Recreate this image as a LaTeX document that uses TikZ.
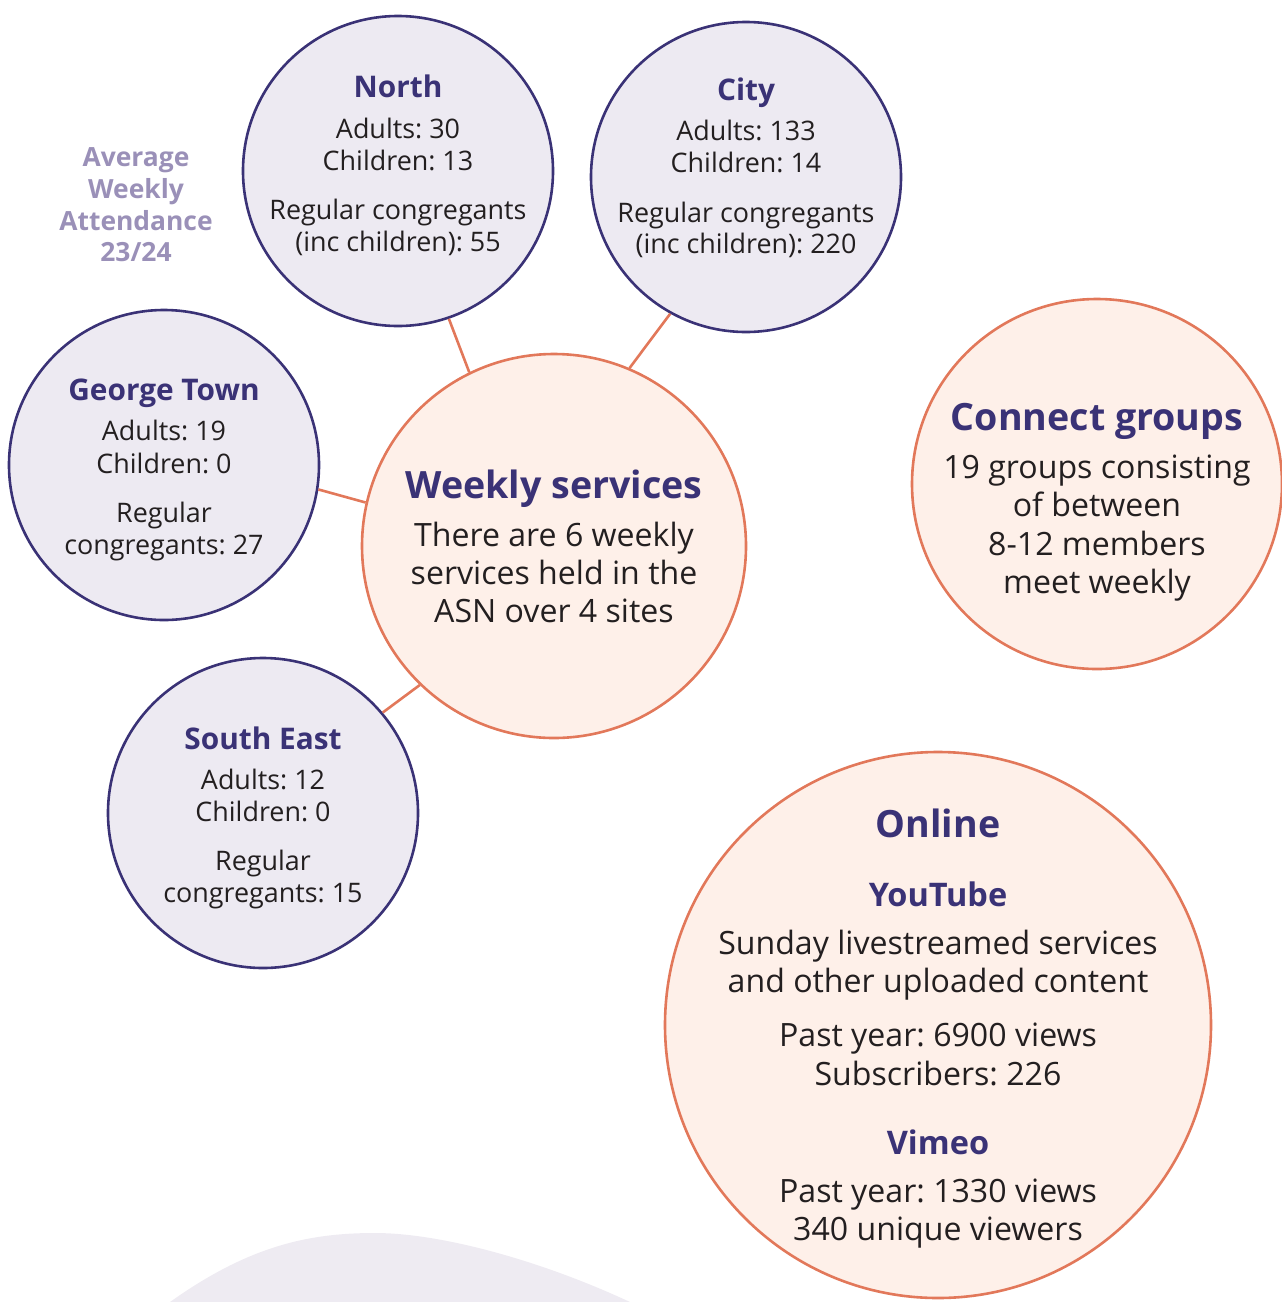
\documentclass[tikz,border=0pt]{standalone}
\usepackage{fontspec}
\setmainfont{Open Sans}
\frenchspacing
\definecolor{navy}{HTML}{3A3276}
\definecolor{lav}{HTML}{EDEAF2}
\definecolor{peach}{HTML}{FEF0E9}
\definecolor{orng}{HTML}{E2785A}
\definecolor{ink}{HTML}{231F20}
\definecolor{mauve}{HTML}{9A90B8}
\definecolor{blob}{HTML}{EEEBF2}
\tikzset{
  site/.style={circle, draw=navy, fill=lav, line width=2.6pt, inner sep=0pt},
  hub/.style={circle, draw=orng, fill=peach, line width=2.6pt, inner sep=0pt},
  conn/.style={draw=orng, line width=2.6pt},
  txt/.style={anchor=base, inner sep=0pt, text=ink, font=\fontsize{26.9}{30}\selectfont},
  btxt/.style={anchor=base, inner sep=0pt, text=ink, font=\fontsize{32.1}{36}\selectfont},
  shead/.style={anchor=base, inner sep=0pt, text=navy, font=\fontsize{29.8}{34}\selectfont\bfseries},
  bhead/.style={anchor=base, inner sep=0pt, text=navy, font=\fontsize{37.6}{42}\selectfont\bfseries},
  mhead/.style={anchor=base, inner sep=0pt, text=navy, font=\fontsize{32.5}{36}\selectfont\bfseries},
  avg/.style={anchor=base, inner sep=0pt, text=mauve, font=\fontsize{26.4}{30}\selectfont\bfseries}
}
\begin{document}
\begin{tikzpicture}[x=1pt,y=-1pt]
\useasboundingbox (0,0) rectangle (1282,1302);
% background blob
\fill[blob] (170,1302) .. controls (250,1245) and (310,1233) .. (375,1233) .. controls (440,1233) and (540,1260) .. (630,1302) -- cycle;
% circles
\node[site, minimum size=310pt] (north) at (398,171) {};
\node[site, minimum size=310pt] (city) at (746,177) {};
\node[site, minimum size=310pt] (gt) at (164,465) {};
\node[site, minimum size=310pt] (se) at (263,813) {};
\node[hub, minimum size=384pt] (weekly) at (554,546) {};
\node[hub, minimum size=370pt] (connect) at (1097,484) {};
\node[hub, minimum size=546pt] (online) at (938,1025) {};
% connectors
\draw[conn] (weekly.116.6) -- (north.-71.2);
\draw[conn] (weekly.67.3) -- (city.-119.5);
\draw[conn] (weekly.167.6) -- (gt.-9.6);
\draw[conn] (weekly.-134.8) -- (se.40);
% average label
\node[avg] (a1) at (136,166) {Average};
\node[avg] (a2) at (136,198) {Weekly};
\node[avg] (a3) at (136,230) {Attendance};
\node[avg] (a4) at (136,261) {23/24};
% North
\node[shead] (n0) at (398,97) {North};
\node[txt] (n1) at (398,138) {Adults: 30};
\node[txt] (n2) at (398,170) {Children: 13};
\node[txt] (n3) at (398,219) {Regular congregants};
\node[txt] (n4) at (398,251) {(inc children): 55};
% City
\node[shead] (c0) at (746,100) {City};
\node[txt] (c1) at (746,140) {Adults: 133};
\node[txt] (c2) at (746,172) {Children: 14};
\node[txt] (c3) at (746,222) {Regular congregants};
\node[txt] (c4) at (746,253) {(inc children): 220};
% George Town
\node[shead] (g0) at (164,400) {George Town};
\node[txt] (g1) at (164,440) {Adults: 19};
\node[txt] (g2) at (164,473) {Children: 0};
\node[txt] (g3) at (164,522) {Regular};
\node[txt] (g4) at (164,554) {congregants: 27};
% South East
\node[shead] (s0) at (263,749) {South East};
\node[txt] (s1) at (263,789) {Adults: 12};
\node[txt] (s2) at (263,821) {Children: 0};
\node[txt] (s3) at (263,870) {Regular};
\node[txt] (s4) at (263,902) {congregants: 15};
% Weekly services
\node[bhead] (w0) at (554,498) {Weekly services};
\node[btxt] (w1) at (554,546) {There are 6 weekly};
\node[btxt] (w2) at (554,584) {services held in the};
\node[btxt] (w3) at (554,622) {ASN over 4 sites};
% Connect groups
\node[bhead] (k0) at (1097,430) {Connect groups};
\node[btxt] (k1) at (1097,478) {19 groups consisting};
\node[btxt] (k2) at (1097,516) {of between};
\node[btxt] (k3) at (1097,555) {8-12 members};
\node[btxt] (k4) at (1097,593) {meet weekly};
% Online
\node[bhead] (o0) at (938,837) {Online};
\node[mhead] (o1) at (938,906) {YouTube};
\node[btxt] (o2) at (938,954) {Sunday livestreamed services};
\node[btxt] (o3) at (938,992) {and other uploaded content};
\node[btxt] (o4) at (938,1046) {Past year: 6900 views};
\node[btxt] (o5) at (938,1085) {Subscribers: 226};
\node[mhead] (o6) at (938,1154) {Vimeo};
\node[btxt] (o7) at (938,1202) {Past year: 1330 views};
\node[btxt] (o8) at (938,1240) {340 unique viewers};
\end{tikzpicture}
\end{document}
